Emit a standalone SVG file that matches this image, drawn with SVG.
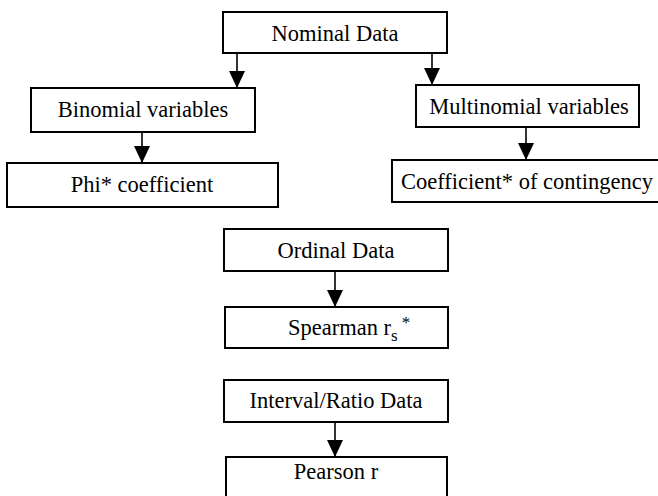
<svg xmlns="http://www.w3.org/2000/svg" width="658" height="496" viewBox="0 0 658 496">
<defs>
<style>
.box{fill:#fff;stroke:#000;stroke-width:2}
.t{font-family:"Liberation Serif","Times New Roman",serif;font-size:22.5px;fill:#000;text-anchor:middle}
.c{stroke:#000;stroke-width:1.6;fill:none;marker-end:url(#ah)}
</style>
<marker id="ah" markerUnits="userSpaceOnUse" markerWidth="18" markerHeight="16" refX="17" refY="8" orient="auto">
<path d="M0,0 L17,8 L0,16 z" fill="#000"/>
</marker>
</defs>
<rect width="658" height="496" fill="#fff"/>
<g id="connectors">
<line class="c" x1="237" y1="53" x2="237" y2="88"/>
<line class="c" x1="432" y1="53" x2="432" y2="85"/>
<line class="c" x1="142" y1="132" x2="142" y2="163"/>
<line class="c" x1="526" y1="127" x2="526" y2="160"/>
<line class="c" x1="335" y1="271" x2="335" y2="307"/>
<line class="c" x1="335" y1="422" x2="335" y2="457"/>
</g>
<g id="nominal"><rect class="box" x="223" y="12" width="224" height="41"/><text class="t" x="335" y="41">Nominal Data</text></g>
<g id="binomial"><rect class="box" x="31" y="88" width="224" height="44"/><text class="t" x="143" y="117">Binomial variables</text></g>
<g id="multinomial"><rect class="box" x="416" y="85" width="223" height="42"/><text class="t" x="529" y="114">Multinomial variables</text></g>
<g id="phi"><rect class="box" x="7" y="163" width="271" height="44"/><text class="t" x="142" y="192">Phi* coefficient</text></g>
<g id="contingency"><rect class="box" x="392" y="160" width="268" height="42"/><text class="t" x="527" y="189">Coefficient* of contingency</text></g>
<g id="ordinal"><rect class="box" x="224" y="229" width="224" height="42"/><text class="t" x="336" y="258">Ordinal Data</text></g>
<g id="spearman"><rect class="box" x="225" y="307" width="223" height="41"/><text class="t" x="288" y="335" style="text-anchor:start">Spearman r<tspan dy="6" font-size="17">s</tspan><tspan dx="4" dy="-13" font-size="17">*</tspan></text></g>
<g id="interval"><rect class="box" x="224" y="380" width="224" height="42"/><text class="t" x="336" y="408">Interval/Ratio Data</text></g>
<g id="pearson"><rect class="box" x="226" y="457" width="221" height="44"/><text class="t" x="336" y="479">Pearson r</text></g>
</svg>
